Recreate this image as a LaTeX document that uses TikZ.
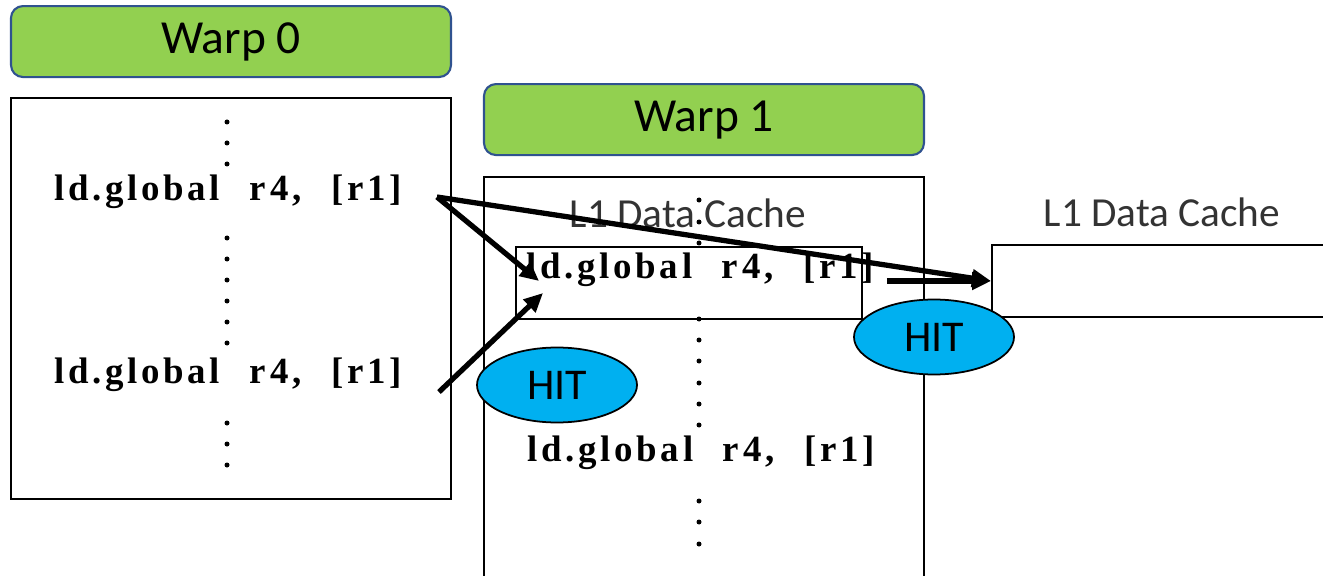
\documentclass[tikz,border=0pt]{standalone}
\usepackage{fontspec}
\setmainfont{Carlito}
\newfontfamily\codefont[LetterSpace=10,WordSpace=2.3]{Liberation Serif}
\usetikzlibrary{positioning,arrows.meta,shapes.geometric}
\definecolor{warpgreen}{HTML}{92D050}
\definecolor{warpblue}{HTML}{2F528F}
\definecolor{hitblue}{HTML}{00B0F0}
\definecolor{cachegray}{HTML}{333333}

\begin{document}
\begin{tikzpicture}[every node/.style={font=\small}]
    % Styles
    \tikzstyle{warp} = [rectangle, rounded corners=0.24cm, minimum width=8.8cm, minimum height=1.42cm, draw=warpblue, line width=1.2pt, fill=warpgreen, font=\fontsize{27}{32}\selectfont]
    \tikzstyle{listing} = [rectangle, minimum width=8.8cm, draw=black, line width=1pt]
    \tikzstyle{code} = [inner sep=0pt, font=\codefont\bfseries\fontsize{21}{24}\selectfont]
    \tikzstyle{cache} = [rectangle, minimum height=1.44cm, draw=black, line width=1pt]
    \tikzstyle{cachelabel} = [text=cachegray, font=\fontsize{23.5}{28}\selectfont]
    \tikzstyle{hit} = [ellipse, minimum width=3.2cm, minimum height=1.5cm, draw=black, line width=1pt, fill=hitblue, font=\fontsize{25}{30}\selectfont]
    \tikzstyle{arrow} = [line width=3pt, -{Triangle[length=0.38cm,width=0.34cm]}]

    \useasboundingbox (0,0) rectangle (26.46,-11.52);

    % Warp 0
    \node (list0) [listing, minimum height=8.02cm] at (4.62,-5.97) {};
    \node (warp0) [warp, above=0.38cm of list0] {Warp 0};
    \node (L0a) [code] at (4.56,-3.84) {ld.global\ r4,\ [r1]};
    \node (L0b) [code] at (4.56,-7.5) {ld.global\ r4,\ [r1]};
    \foreach \y in {122,143,164,238,259,280,301,322,343,423,444,465}
        \fill (4.54,-\y/50) circle (0.05);

    % Warp 1
    \node (list1) [listing, minimum height=9.26cm] at (14.08,-8.17) {};
    \node (warp1) [warp, above=0.4cm of list1] {Warp 1};
    \node (lab1) [cachelabel] at (13.76,-4.26) {L1 Data Cache};
    \node (cache1) [cache, minimum width=6.92cm] at (13.78,-5.66) {};
    \node (L1a) [code] at (14.0,-5.4) {ld.global\ r4,\ [r1]};
    \node (L1b) [code] at (14.02,-9.06) {ld.global\ r4,\ [r1]};
    \foreach \y in {200,222,243,319,340,361,383,404,425,501,522,544}
        \fill (13.98,-\y/50) circle (0.05);

    % L1 on the right
    \node (cache2) [cache, minimum width=8.5cm, anchor=west] at (19.82,-5.62) {};
    \node (lab2) [cachelabel] at (23.24,-4.24) {L1 Data Cache};

    % Hits
    \node (hit1) [hit] at (11.14,-7.7) {HIT};
    \node (hit2) [hit] at (18.68,-6.74) {HIT};

    % Arrows
    \coordinate (out0) at ([xshift=0.7cm,yshift=-0.1cm]L0a.east);
    \coordinate (out1) at ([xshift=0.74cm,yshift=-0.34cm]L0b.east);
    \coordinate (in0) at ([xshift=0.26cm,yshift=-0.22cm]L1a.west);
    \coordinate (in1) at ([xshift=0.34cm,yshift=-0.46cm]L1a.west);
    \coordinate (out2) at ([xshift=0.26cm,yshift=-0.22cm]L1a.east);
    \draw [arrow] (out0) -- (in0);
    \draw [arrow] (out1) -- (in1);
    \draw [arrow] (out0) -- (cache2.west);
    \draw [arrow] (out2) -- (cache2.west);
\end{tikzpicture}
\end{document}
